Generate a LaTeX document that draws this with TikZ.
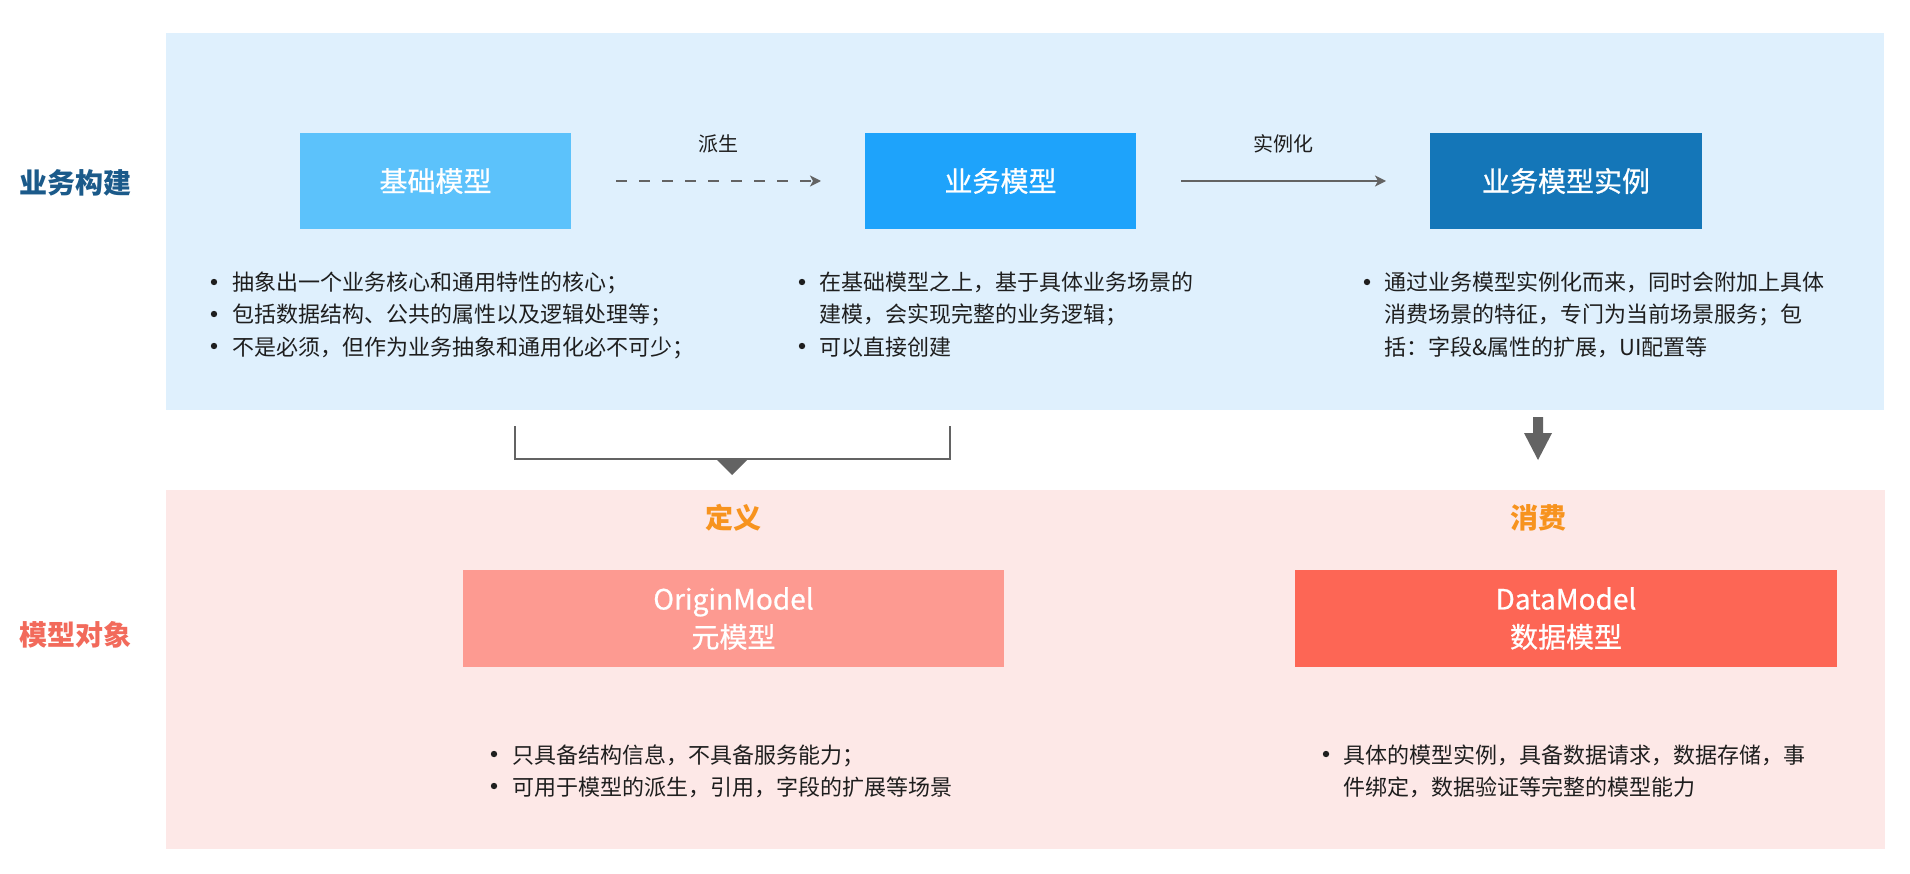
\documentclass[tikz,border=0pt]{standalone}
\usepackage{fontspec}
\setmainfont{Noto Sans CJK SC}
\newfontfamily\medfont[FakeBold=0.7]{Noto Sans CJK SC}
\usetikzlibrary{arrows.meta}
\definecolor{panelblue}{HTML}{DFF0FD}
\definecolor{panelpink}{HTML}{FDE8E7}
\definecolor{boxA}{HTML}{5CC2FB}
\definecolor{boxB}{HTML}{1EA3FB}
\definecolor{boxC}{HTML}{1476B8}
\definecolor{boxD}{HTML}{FD9A91}
\definecolor{boxE}{HTML}{FD6655}
\definecolor{lblblue}{HTML}{1B5A8A}
\definecolor{lblred}{HTML}{F26A5B}
\definecolor{lblorange}{HTML}{F7931E}
\definecolor{arrowgray}{HTML}{636363}
\definecolor{txt}{HTML}{1E1E1E}
\begin{document}
\begin{tikzpicture}[x=1pt,y=-1pt,
  panel/.style={inner sep=0, outer sep=0},
  mbox/.style={inner sep=0, outer sep=0, text=white, align=center,
    font=\medfont\fontsize{28}{38}\selectfont},
  sidelabel/.style={inner sep=0, font=\fontsize{28}{34}\selectfont\bfseries},
  catlabel/.style={inner sep=0, text=lblorange, font=\fontsize{28}{34}\selectfont\bfseries},
  edgelabel/.style={inner sep=0, text=txt, font=\fontsize{20}{24}\selectfont},
  listline/.style={anchor=base west, inner sep=0, text=txt, font=\fontsize{22}{32}\selectfont},
  bulletdot/.style={fill=txt},
  conn/.style={draw=arrowgray, line width=2pt, shorten <=45pt, shorten >=44pt,
    -{Stealth[length=11pt,width=11pt,inset=3pt]}},
]
\useasboundingbox (0,0) rectangle (1910,874);
\fill[white] (0,0) rectangle (1910,874);

% panels
\node[panel, fill=panelblue, minimum width=1718pt, minimum height=377pt] (bizpanel) at (1025,221.5) {};
\node[panel, fill=panelpink, minimum width=1719pt, minimum height=359pt] (objpanel) at (1025.5,669.5) {};

% side labels
\node[sidelabel, text=lblblue] (lblbiz) at (75,183) {业务构建};
\node[sidelabel, text=lblred] (lblobj) at (75,635) {模型对象};

% top boxes
\node[mbox, fill=boxA, minimum width=271pt, minimum height=96pt] (base) at (435.5,181) {基础模型};
\node[mbox, fill=boxB, minimum width=271pt, minimum height=96pt] (biz) at (1000.5,181) {业务模型};
\node[mbox, fill=boxC, minimum width=272pt, minimum height=96pt] (inst) at (1566,181) {业务模型实例};

% connectors with labels
\draw[conn, dash pattern=on 11pt off 12pt] (base) -- (biz);
\draw[conn] (biz) -- (inst);
\node[edgelabel] (lblderive) at (718,144) {派生};
\node[edgelabel] (lblinst) at (1283,144) {实例化};

% lists top
\node[listline] (la1) at (232,291) {抽象出一个业务核心和通用特性的核心；};
\node[listline] (la2) at (232,323) {包括数据结构、公共的属性以及逻辑处理等；};
\node[listline] (la3) at (232,355) {不是必须，但作为业务抽象和通用化必不可少；};
\foreach \yy in {282,314,346} \fill[bulletdot] (214,\yy) circle (3.2);

\node[listline] (lb1) at (819,291) {在基础模型之上，基于具体业务场景的};
\node[listline] (lb2) at (819,323) {建模，会实现完整的业务逻辑；};
\node[listline] (lb3) at (819,355) {可以直接创建};
\foreach \yy in {282,346} \fill[bulletdot] (802,\yy) circle (3.2);

\node[listline] (lc1) at (1384,291) {通过业务模型实例化而来，同时会附加上具体};
\node[listline] (lc2) at (1384,323) {消费场景的特征，专门为当前场景服务；包};
\node[listline] (lc3) at (1384,355) {括：字段\&属性的扩展，UI配置等};
\fill[bulletdot] (1367,282) circle (3.2);

% bracket to OriginModel
\coordinate (brL) at (515,426);
\coordinate (brR) at (950,426);
\coordinate (brM) at (732,459);
\draw[arrowgray, line width=2pt] (brL) |- (brR |- brM) -- (brR);
\fill[arrowgray] (brM) ++(-16,0) -- ++(32,0) -- ++(-16,16) -- cycle;

% thick down arrow to DataModel
\coordinate (cons) at (1538,417);
\fill[arrowgray] (cons) ++(-5,0) -- ++(10,0) -- ++(0,16) -- ++(9,0) -- ++(-14,27)
  -- ++(-14,-27) -- ++(9,0) -- cycle;

% category labels
\node[catlabel] (lbldef) at (733,518) {定义};
\node[catlabel] (lblcons) at (1538,518) {消费};

% bottom boxes
\node[mbox, fill=boxD, minimum width=541pt, minimum height=97pt] (origin) at (733.5,618.5) {OriginModel\\元模型};
\node[mbox, fill=boxE, minimum width=542pt, minimum height=97pt] (data) at (1566,618.5) {DataModel\\数据模型};

% lists bottom
\node[listline] (ld1) at (512,763) {只具备结构信息，不具备服务能力；};
\node[listline] (ld2) at (512,795) {可用于模型的派生，引用，字段的扩展等场景};
\foreach \yy in {754,786} \fill[bulletdot] (494,\yy) circle (3.2);

\node[listline] (le1) at (1343,763) {具体的模型实例，具备数据请求，数据存储，事};
\node[listline] (le2) at (1343,795) {件绑定，数据验证等完整的模型能力};
\fill[bulletdot] (1326,754) circle (3.2);
\end{tikzpicture}
\end{document}
